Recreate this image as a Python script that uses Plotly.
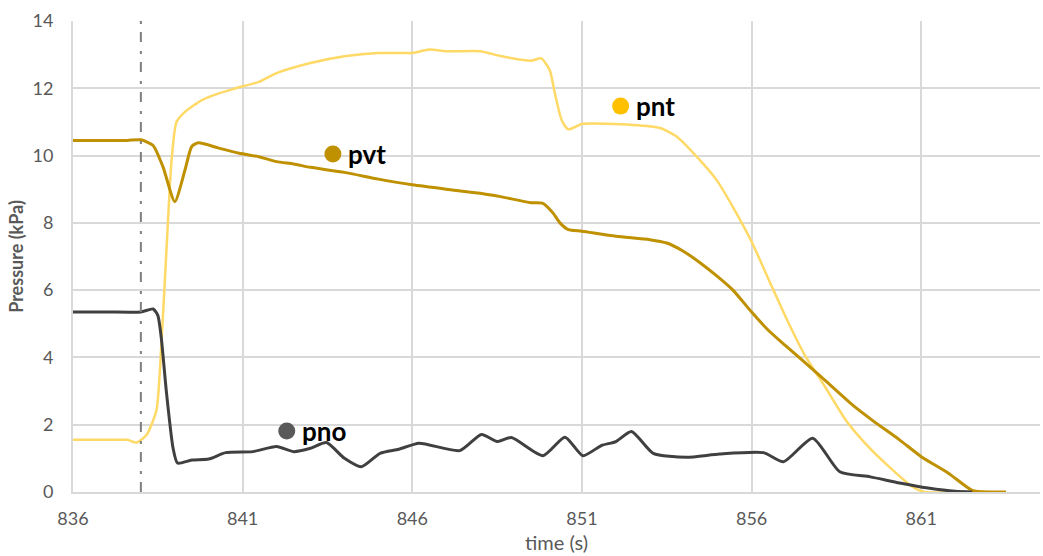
import plotly.graph_objects as go

# Time axis samples (s) and pressure readings (kPa) for each channel
pvt_t = [836, 837, 837.6, 838.0, 838.36, 838.65, 839.0, 839.3, 839.5, 839.7, 840.3, 840.9,
         841.5, 842.0, 842.5, 843.0, 844.0, 845.0, 846.0, 847.0, 848.0, 848.6, 849.5, 849.85,
         850.15, 850.35, 850.6, 851.0, 852.0, 853.0, 853.5, 854.0, 854.5, 855.0, 855.45, 856.0,
         856.5, 857.0, 857.4, 858.15, 858.98, 859.6, 860.36, 861.0, 861.8, 862.5, 863.0, 863.5]
pvt_v = [10.45, 10.45, 10.45, 10.47, 10.3, 9.67, 8.63, 9.57, 10.27, 10.38, 10.22, 10.07,
         9.96, 9.82, 9.75, 9.65, 9.5, 9.3, 9.13, 9.0, 8.88, 8.78, 8.6, 8.58,
         8.29, 8.0, 7.8, 7.75, 7.6, 7.5, 7.4, 7.15, 6.8, 6.4, 6.0, 5.35,
         4.8, 4.35, 4.0, 3.33, 2.58, 2.1, 1.55, 1.05, 0.56, 0.05, 0.0, 0.0]

pnt_t = [836, 837, 837.6, 837.87, 838.17, 838.46, 838.6, 838.76, 838.9, 839.05, 839.3, 839.8,
         840.3, 840.8, 841.5, 842.0, 843.0, 844.0, 845.0, 846.0, 846.5, 847.0, 848.0, 848.6,
         849.5, 849.8, 850.05, 850.2, 850.4, 850.6, 851.0, 852.5, 853.3, 853.8, 854.47, 854.97,
         855.45, 856.0, 856.6, 857.1, 857.55, 858.15, 858.8, 859.3, 860.0, 860.75, 861.1, 862.0,
         863.0]
pnt_v = [1.55, 1.55, 1.55, 1.47, 1.7, 2.44, 4.3, 7.3, 9.8, 11.0, 11.3, 11.65,
         11.85, 12.0, 12.2, 12.45, 12.75, 12.95, 13.05, 13.05, 13.15, 13.1, 13.1, 12.96,
         12.82, 12.89, 12.54, 11.86, 11.06, 10.78, 10.94, 10.91, 10.82, 10.56, 9.87, 9.27,
         8.47, 7.44, 6.1, 5.0, 4.1, 3.15, 2.1, 1.5, 0.8, 0.15, 0.0, 0.0,
         0.0]

pno_t = [836, 837, 838.0, 838.36, 838.5, 838.6, 838.75, 838.95, 839.08, 839.5, 840.0, 840.5,
         841.3, 842.0, 842.5, 843.0, 843.47, 844.0, 844.5, 845.05, 845.6, 846.2, 847.4, 848.04,
         848.5, 848.92, 849.85, 850.5, 851.03, 851.57, 852.0, 852.46, 853.1, 854.07, 855.06, 856.35,
         856.94, 857.8, 858.6, 859.5, 860.36, 861.2, 862.0, 862.5]
pno_v = [5.35, 5.35, 5.35, 5.44, 5.25, 4.6, 3.0, 1.3, 0.86, 0.95, 0.98, 1.17,
         1.2, 1.35, 1.2, 1.3, 1.47, 1.0, 0.75, 1.15, 1.27, 1.45, 1.23, 1.71,
         1.5, 1.62, 1.08, 1.63, 1.08, 1.38, 1.5, 1.8, 1.15, 1.03, 1.13, 1.17,
         0.9, 1.6, 0.6, 0.45, 0.27, 0.12, 0.02, 0.0]

# Inline label positions (time, pressure)
labels = ["pvt", "pnt", "pno"]
label_t = [843.66, 852.14, 842.3]
label_v = [10.05, 11.47, 1.81]

event_t = 838.0

x_ticks = [836, 841, 846, 851, 856, 861]
y_ticks = [0, 2, 4, 6, 8, 10, 12, 14]

FONT = "Lato, 'Open Sans', sans-serif"

fig = go.Figure()

fig.add_trace(go.Scatter(x=pnt_t, y=pnt_v, mode="lines", name="pnt",
                         line=dict(color="#FFD966", width=2.5, shape="spline", smoothing=0.6)))
fig.add_trace(go.Scatter(x=pvt_t, y=pvt_v, mode="lines", name="pvt",
                         line=dict(color="#BF9000", width=3, shape="spline", smoothing=0.6)))
fig.add_trace(go.Scatter(x=pno_t, y=pno_v, mode="lines", name="pno",
                         line=dict(color="#404040", width=3, shape="spline", smoothing=0.6)))

# Event marker
fig.add_trace(go.Scatter(x=[event_t, event_t], y=[0, 14], mode="lines", showlegend=False,
                         line=dict(color="#7F7F7F", width=2, dash="10px,8px,3px,9px")))

# Inline series labels
marker_colors = ["#BF9000", "#FFC000", "#595959"]
fig.add_trace(go.Scatter(x=label_t, y=label_v, mode="markers", showlegend=False,
                         marker=dict(size=17, color=marker_colors)))
for name, t, v in zip(labels, label_t, label_v):
    fig.add_annotation(x=t, y=v, text="<b>%s</b>" % name, showarrow=False,
                       xanchor="left", yanchor="middle", xshift=13,
                       font=dict(family=FONT, size=26, color="#000000"))

fig.update_layout(
    width=1043, height=556,
    margin=dict(l=73, r=3, t=21, b=64),
    paper_bgcolor="white", plot_bgcolor="white",
    showlegend=False,
    font=dict(family=FONT, color="#595959"),
)
fig.update_xaxes(range=[836, 864.5], tickvals=x_ticks, showgrid=True, gridcolor="#D9D9D9",
                 gridwidth=2, zeroline=False, showline=True, linecolor="#D9D9D9", linewidth=2,
                 ticks="", ticklabelstandoff=9, tickfont=dict(size=18, color="#595959"),
                 title=dict(text="time (s)", font=dict(size=20, color="#595959"), standoff=8))
fig.update_yaxes(range=[0, 14], tickvals=y_ticks, showgrid=True, gridcolor="#D9D9D9",
                 gridwidth=2, zeroline=False, showline=True, linecolor="#D9D9D9", linewidth=2,
                 ticks="", ticklabelstandoff=14, tickfont=dict(size=18, color="#595959"),
                 title=dict(text="<b>Pressure (kPa)</b>", font=dict(size=18, color="#595959"),
                            standoff=4))

fig.write_html("out.html")
